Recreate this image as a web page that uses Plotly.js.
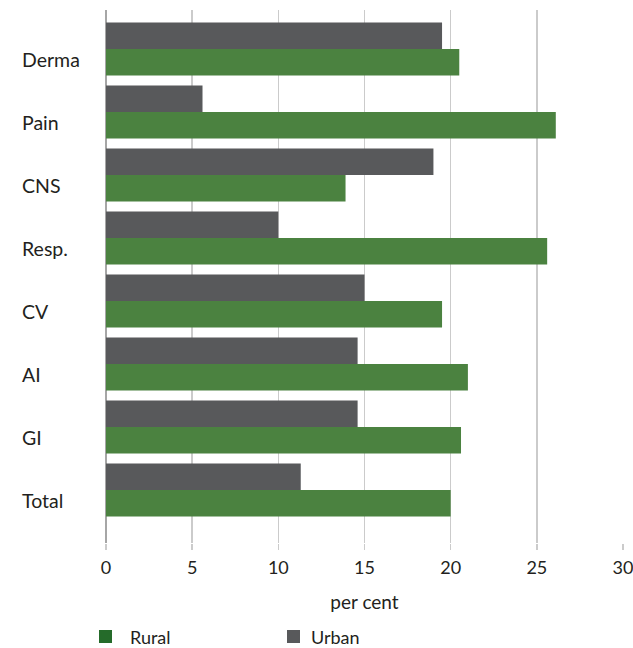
<!DOCTYPE html>
<html>
<head>
<meta charset="utf-8">
<script src="https://cdn.plot.ly/plotly-3.0.1.min.js"></script>
<style>
  html, body { margin: 0; padding: 0; background: #fff; }
  #chart { width: 633px; height: 648px; }
</style>
</head>
<body>
<div id="chart"></div>
<script>
// Prescription share by therapeutic group, per cent
const categories = ["Derma", "Pain", "CNS", "Resp.", "CV", "AI", "GI", "Total"];
const urban = [19.5, 5.6, 19.0, 10.0, 15.0, 14.6, 14.6, 11.3];
const rural = [20.5, 26.1, 13.9, 25.6, 19.5, 21.0, 20.6, 20.0];
const seriesNames = ["Rural", "Urban"];
const xTicks = [0, 5, 10, 15, 20, 25, 30];

const GREEN = "#4b8240";
const GREEN_KEY = "#256b2a";
const GRAY = "#58595b";
const FONT = "Lato, 'Open Sans', sans-serif";
const TEXT = "#231f20";

const traces = [
  {
    type: "bar", orientation: "h", name: seriesNames[1],
    y: categories, x: urban,
    marker: { color: GRAY, line: { width: 0 } },
    showlegend: false, hoverinfo: "x+name"
  },
  {
    type: "bar", orientation: "h", name: seriesNames[0],
    y: categories, x: rural,
    marker: { color: GREEN, line: { width: 0 } },
    showlegend: false, hoverinfo: "x+name"
  }
];

// Category labels, left aligned in the margin
const annotations = categories.map(c => ({
  xref: "paper", yref: "y", x: -0.166, y: c, yshift: -10.5,
  text: c, showarrow: false, xanchor: "left", yanchor: "middle",
  font: { family: FONT, size: 19.5, color: TEXT }
}));

// Legend keys drawn below the axis title
const legendItems = [
  { name: seriesNames[0], color: GREEN_KEY, x0: 99, tx: 128 },
  { name: seriesNames[1], color: GRAY, x0: 287, tx: 309 }
];
const shapes = [];
const L = 106, W = 517, T = 10, H = 533;
legendItems.forEach(it => {
  shapes.push({
    type: "rect", xref: "paper", yref: "paper",
    x0: (it.x0 - L) / W, x1: (it.x0 + 13 - L) / W,
    y0: (T + H - 643) / H, y1: (T + H - 630) / H,
    fillcolor: it.color, line: { width: 0 }
  });
  annotations.push({
    xref: "paper", yref: "paper",
    x: (it.tx - L) / W, y: (T + H - 637) / H,
    text: it.name, showarrow: false, xanchor: "left", yanchor: "middle",
    font: { family: FONT, size: 18, color: TEXT }
  });
});

const layout = {
  width: 633, height: 648,
  margin: { l: L, r: 633 - L - W, t: T, b: 648 - T - H, pad: 0 },
  paper_bgcolor: "#fff", plot_bgcolor: "#fff",
  barmode: "group", bargap: 0.16, bargroupgap: 0,
  showlegend: false,
  font: { family: FONT, color: TEXT, size: 18 },
  xaxis: {
    range: [0, 30], tickvals: xTicks, ticktext: xTicks.map(String),
    showgrid: true, gridcolor: "#cbcbcb", gridwidth: 1.6,
    zeroline: true, zerolinecolor: "#a6a6a6", zerolinewidth: 2,
    ticks: "outside", ticklen: 6, tickcolor: "#cbcbcb", tickwidth: 1.6,
    ticklabelstandoff: 2, ticklabeloverflow: "allow",
    tickfont: { family: FONT, size: 18, color: TEXT },
    title: { text: "per cent", standoff: 19, font: { family: FONT, size: 19, color: TEXT } },
    fixedrange: true
  },
  yaxis: {
    type: "category", range: [7.84, -0.62],
    showticklabels: false, showgrid: false, zeroline: false, ticks: "",
    fixedrange: true
  },
  annotations: annotations,
  shapes: shapes
};

Plotly.newPlot("chart", traces, layout, { displayModeBar: false, staticPlot: true });
</script>
</body>
</html>
